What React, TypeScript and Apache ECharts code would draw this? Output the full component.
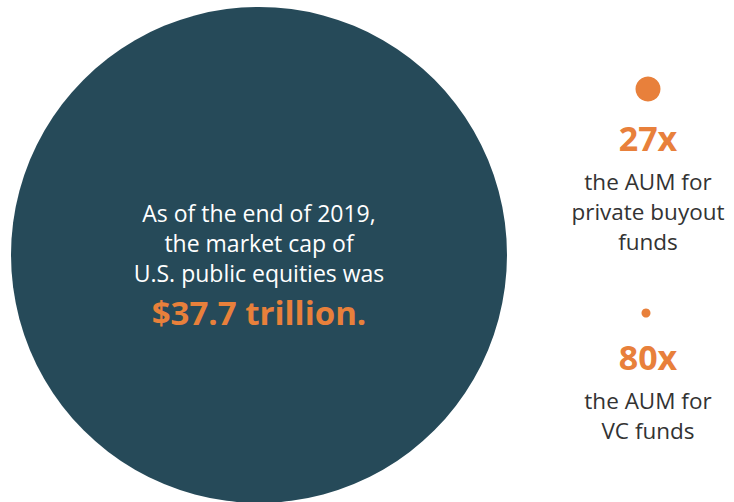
import React, { useEffect, useRef } from "react";
import * as echarts from "echarts";

// Data
const categories = ["U.S. public equities", "Private buyout funds", "VC funds"];
const multiples = ["", "27x", "80x"];
const marketCapTrillion = 37.7;
const mainLines = ["As of the end of 2019,", "the market cap of", "U.S. public equities was"];
const buyoutLines = ["the AUM for", "private buyout", "funds"];
const vcLines = ["the AUM for", "VC funds"];

const TEAL = "#264a59";
const ORANGE = "#e8803b";
const GRAY = "#333333";
const FONT = "'Open Sans', sans-serif";

export default function App() {
  const ref = useRef<HTMLDivElement>(null);
  useEffect(() => {
    document.body.style.margin = "0";
    const chart = echarts.init(ref.current!, null, { renderer: "svg" });
    // layout: [x, y, diameter] per bubble
    const layout = [
      [259, 255, 496],
      [648, 89, 25],
      [646, 313, 9],
    ];
    const colors = [TEAL, ORANGE, ORANGE];
    const seriesData = categories.map((name, i) => ({
      name,
      value: [layout[i][0], layout[i][1], layout[i][2]],
      symbolSize: layout[i][2],
      itemStyle: { color: colors[i], opacity: 1 },
    }));

    const texts: any[] = [];
    const mk = (x: number, y: number, text: string, fill: string, weight: number, size: number) => ({
      type: "text",
      x,
      y,
      z: 100,
      style: {
        text,
        fill,
        font: `${weight} ${size}px ${FONT}`,
        lineHeight: size + 1,
        textAlign: "center",
        textVerticalAlign: "middle",
      },
    });
    const lineY = [213, 243, 273];
    mainLines.forEach((t, i) => texts.push(mk(259, lineY[i], t, "#ffffff", 400, 23)));
    texts.push(mk(259, 312, `$${marketCapTrillion} trillion.`, ORANGE, 700, 33));
    texts.push(mk(648, 138, multiples[1], ORANGE, 700, 34));
    const bY = [181, 211, 241];
    buyoutLines.forEach((t, i) => texts.push(mk(648, bY[i], t, GRAY, 400, 22.5)));
    texts.push(mk(648, 357, multiples[2], ORANGE, 700, 34));
    const vY = [400, 430];
    vcLines.forEach((t, i) => texts.push(mk(648, vY[i], t, GRAY, 400, 22.5)));

    chart.setOption({
      animation: false,
      backgroundColor: "#ffffff",
      grid: { left: 0, right: 0, top: 0, bottom: 0 },
      xAxis: { type: "value", min: 0, max: 734, show: false },
      yAxis: { type: "value", min: 0, max: 502, inverse: true, show: false },
      series: [
        {
          type: "scatter",
          data: seriesData,
          silent: true,
          z: 1,
        },
      ],
      graphic: { elements: texts },
    });
    return () => chart.dispose();
  }, []);
  return <div ref={ref} style={{ width: 734, height: 502 }} />;
}
